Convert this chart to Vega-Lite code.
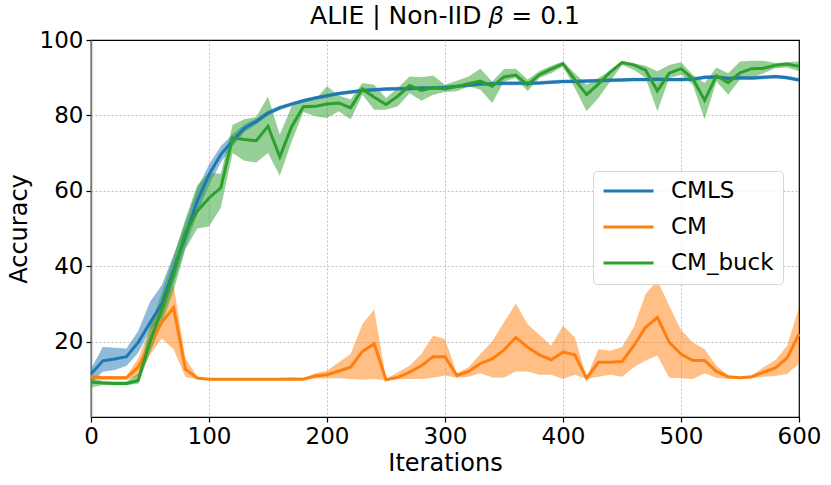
{
  "$schema": "https://vega.github.io/schema/vega-lite/v6.json",
  "width": 708,
  "height": 377,
  "autosize": {"type": "none"},
  "padding": {"left": 91, "top": 40, "right": 32, "bottom": 68},
  "background": "white",
  "title": {
    "text": "ALIE | Non-IID 𝛽 = 0.1",
    "font": "DejaVu Sans",
    "fontSize": 25,
    "fontWeight": "normal",
    "color": "black",
    "anchor": "middle",
    "offset": 0
  },
  "config": {
    "font": "DejaVu Sans",
    "view": {"stroke": "black", "strokeWidth": 1.2},
    "axis": {
      "grid": true,
      "gridColor": "#b0b0b0",
      "gridDash": [2, 2],
      "gridWidth": 0.8,
      "domainColor": "black",
      "domainWidth": 1.2,
      "tickColor": "black",
      "tickSize": 5,
      "tickWidth": 1.2,
      "labelFlush": false,
      "labelFont": "DejaVu Sans",
      "labelFontSize": 23,
      "labelColor": "black",
      "titleFont": "DejaVu Sans",
      "titleFontSize": 24,
      "titleFontWeight": "normal",
      "titleColor": "black"
    }
  },
  "data": {
    "values": [
      {"it": 0, "s": "CMLS", "m": 11.4, "lo": 9.0, "hi": 12.8},
      {"it": 10, "s": "CMLS", "m": 14.9, "lo": 12.0, "hi": 18.6},
      {"it": 20, "s": "CMLS", "m": 15.4, "lo": 12.5, "hi": 18.4},
      {"it": 30, "s": "CMLS", "m": 16.0, "lo": 13.5, "hi": 18.2},
      {"it": 40, "s": "CMLS", "m": 19.8, "lo": 17.0, "hi": 22.8},
      {"it": 50, "s": "CMLS", "m": 25.0, "lo": 23.0, "hi": 30.5},
      {"it": 60, "s": "CMLS", "m": 30.0, "lo": 26.5, "hi": 35.0},
      {"it": 70, "s": "CMLS", "m": 39.0, "lo": 35.5, "hi": 43.0},
      {"it": 80, "s": "CMLS", "m": 48.0, "lo": 45.0, "hi": 51.5},
      {"it": 90, "s": "CMLS", "m": 57.3, "lo": 54.0, "hi": 60.5},
      {"it": 100, "s": "CMLS", "m": 64.3, "lo": 61.5, "hi": 67.0},
      {"it": 110, "s": "CMLS", "m": 69.6, "lo": 67.5, "hi": 71.8},
      {"it": 120, "s": "CMLS", "m": 73.3, "lo": 71.8, "hi": 75.0},
      {"it": 130, "s": "CMLS", "m": 76.6, "lo": 75.6, "hi": 77.6},
      {"it": 140, "s": "CMLS", "m": 78.4, "lo": 77.6, "hi": 79.2},
      {"it": 150, "s": "CMLS", "m": 80.6, "lo": 79.9, "hi": 81.3},
      {"it": 160, "s": "CMLS", "m": 82.0, "lo": 81.4, "hi": 82.6},
      {"it": 170, "s": "CMLS", "m": 83.0, "lo": 82.5, "hi": 83.5},
      {"it": 180, "s": "CMLS", "m": 83.9, "lo": 83.4, "hi": 84.4},
      {"it": 190, "s": "CMLS", "m": 84.6, "lo": 84.1, "hi": 85.1},
      {"it": 200, "s": "CMLS", "m": 85.2, "lo": 84.7, "hi": 85.7},
      {"it": 210, "s": "CMLS", "m": 85.8, "lo": 85.3, "hi": 86.3},
      {"it": 220, "s": "CMLS", "m": 86.2, "lo": 85.7, "hi": 86.7},
      {"it": 230, "s": "CMLS", "m": 86.6, "lo": 86.1, "hi": 87.1},
      {"it": 240, "s": "CMLS", "m": 86.8, "lo": 86.3, "hi": 87.3},
      {"it": 250, "s": "CMLS", "m": 87.0, "lo": 86.5, "hi": 87.5},
      {"it": 260, "s": "CMLS", "m": 87.1, "lo": 86.6, "hi": 87.6},
      {"it": 270, "s": "CMLS", "m": 87.1, "lo": 86.6, "hi": 87.6},
      {"it": 280, "s": "CMLS", "m": 87.3, "lo": 86.8, "hi": 87.8},
      {"it": 290, "s": "CMLS", "m": 87.3, "lo": 86.8, "hi": 87.8},
      {"it": 300, "s": "CMLS", "m": 87.4, "lo": 86.9, "hi": 87.9},
      {"it": 310, "s": "CMLS", "m": 87.7, "lo": 87.2, "hi": 88.2},
      {"it": 320, "s": "CMLS", "m": 88.0, "lo": 87.5, "hi": 88.5},
      {"it": 330, "s": "CMLS", "m": 88.3, "lo": 87.8, "hi": 88.8},
      {"it": 340, "s": "CMLS", "m": 88.4, "lo": 87.9, "hi": 88.9},
      {"it": 350, "s": "CMLS", "m": 88.5, "lo": 88.0, "hi": 89.0},
      {"it": 360, "s": "CMLS", "m": 88.5, "lo": 88.0, "hi": 89.0},
      {"it": 370, "s": "CMLS", "m": 88.5, "lo": 88.0, "hi": 89.0},
      {"it": 380, "s": "CMLS", "m": 88.6, "lo": 88.1, "hi": 89.1},
      {"it": 390, "s": "CMLS", "m": 88.8, "lo": 88.3, "hi": 89.3},
      {"it": 400, "s": "CMLS", "m": 89.0, "lo": 88.5, "hi": 89.5},
      {"it": 410, "s": "CMLS", "m": 89.0, "lo": 88.5, "hi": 89.5},
      {"it": 420, "s": "CMLS", "m": 89.1, "lo": 88.6, "hi": 89.6},
      {"it": 430, "s": "CMLS", "m": 89.2, "lo": 88.7, "hi": 89.7},
      {"it": 440, "s": "CMLS", "m": 89.3, "lo": 88.8, "hi": 89.8},
      {"it": 450, "s": "CMLS", "m": 89.4, "lo": 88.9, "hi": 89.9},
      {"it": 460, "s": "CMLS", "m": 89.5, "lo": 89.0, "hi": 90.0},
      {"it": 470, "s": "CMLS", "m": 89.5, "lo": 89.0, "hi": 90.0},
      {"it": 480, "s": "CMLS", "m": 89.6, "lo": 89.1, "hi": 90.1},
      {"it": 490, "s": "CMLS", "m": 89.5, "lo": 89.0, "hi": 90.0},
      {"it": 500, "s": "CMLS", "m": 89.5, "lo": 89.0, "hi": 90.0},
      {"it": 510, "s": "CMLS", "m": 89.6, "lo": 89.1, "hi": 90.1},
      {"it": 520, "s": "CMLS", "m": 90.1, "lo": 89.6, "hi": 90.6},
      {"it": 530, "s": "CMLS", "m": 90.2, "lo": 89.7, "hi": 90.7},
      {"it": 540, "s": "CMLS", "m": 89.8, "lo": 89.3, "hi": 90.3},
      {"it": 550, "s": "CMLS", "m": 90.0, "lo": 89.5, "hi": 90.5},
      {"it": 560, "s": "CMLS", "m": 89.9, "lo": 89.4, "hi": 90.4},
      {"it": 570, "s": "CMLS", "m": 90.1, "lo": 89.6, "hi": 90.6},
      {"it": 580, "s": "CMLS", "m": 90.3, "lo": 89.8, "hi": 90.8},
      {"it": 590, "s": "CMLS", "m": 90.0, "lo": 89.5, "hi": 90.5},
      {"it": 600, "s": "CMLS", "m": 89.4, "lo": 88.9, "hi": 89.9},

      {"it": 0, "s": "CM", "m": 10.6, "lo": 9.8, "hi": 11.2},
      {"it": 10, "s": "CM", "m": 10.4, "lo": 9.9, "hi": 10.9},
      {"it": 20, "s": "CM", "m": 10.4, "lo": 9.9, "hi": 10.9},
      {"it": 30, "s": "CM", "m": 10.4, "lo": 9.9, "hi": 10.9},
      {"it": 40, "s": "CM", "m": 13.2, "lo": 10.8, "hi": 15.5},
      {"it": 50, "s": "CM", "m": 19.4, "lo": 16.5, "hi": 23.5},
      {"it": 60, "s": "CM", "m": 25.1, "lo": 20.8, "hi": 30.5},
      {"it": 70, "s": "CM", "m": 29.0, "lo": 18.0, "hi": 35.0},
      {"it": 80, "s": "CM", "m": 12.7, "lo": 10.6, "hi": 15.5},
      {"it": 90, "s": "CM", "m": 10.3, "lo": 10.0, "hi": 10.8},
      {"it": 100, "s": "CM", "m": 10.0, "lo": 9.8, "hi": 10.2},
      {"it": 110, "s": "CM", "m": 10.0, "lo": 9.8, "hi": 10.2},
      {"it": 120, "s": "CM", "m": 10.0, "lo": 9.8, "hi": 10.2},
      {"it": 130, "s": "CM", "m": 10.0, "lo": 9.8, "hi": 10.2},
      {"it": 140, "s": "CM", "m": 10.0, "lo": 9.8, "hi": 10.2},
      {"it": 150, "s": "CM", "m": 10.0, "lo": 9.8, "hi": 10.2},
      {"it": 160, "s": "CM", "m": 10.0, "lo": 9.8, "hi": 10.2},
      {"it": 170, "s": "CM", "m": 10.1, "lo": 9.9, "hi": 10.4},
      {"it": 180, "s": "CM", "m": 10.0, "lo": 9.8, "hi": 10.3},
      {"it": 190, "s": "CM", "m": 10.9, "lo": 10.2, "hi": 11.6},
      {"it": 200, "s": "CM", "m": 11.2, "lo": 10.3, "hi": 12.3},
      {"it": 210, "s": "CM", "m": 12.2, "lo": 10.3, "hi": 14.5},
      {"it": 220, "s": "CM", "m": 13.2, "lo": 10.1, "hi": 16.7},
      {"it": 230, "s": "CM", "m": 17.4, "lo": 9.9, "hi": 24.6},
      {"it": 240, "s": "CM", "m": 19.4, "lo": 10.1, "hi": 28.6},
      {"it": 250, "s": "CM", "m": 9.9, "lo": 9.7, "hi": 10.1},
      {"it": 260, "s": "CM", "m": 10.5, "lo": 10.1, "hi": 11.9},
      {"it": 270, "s": "CM", "m": 11.9, "lo": 10.1, "hi": 13.6},
      {"it": 280, "s": "CM", "m": 13.6, "lo": 10.1, "hi": 16.7},
      {"it": 290, "s": "CM", "m": 16.0, "lo": 10.4, "hi": 21.6},
      {"it": 300, "s": "CM", "m": 16.0, "lo": 11.0, "hi": 20.7},
      {"it": 310, "s": "CM", "m": 11.0, "lo": 10.4, "hi": 11.6},
      {"it": 320, "s": "CM", "m": 12.1, "lo": 10.7, "hi": 13.2},
      {"it": 330, "s": "CM", "m": 14.2, "lo": 11.6, "hi": 16.7},
      {"it": 340, "s": "CM", "m": 15.4, "lo": 10.5, "hi": 20.1},
      {"it": 350, "s": "CM", "m": 17.8, "lo": 10.4, "hi": 25.1},
      {"it": 360, "s": "CM", "m": 21.1, "lo": 12.1, "hi": 30.1},
      {"it": 370, "s": "CM", "m": 18.5, "lo": 12.1, "hi": 24.6},
      {"it": 380, "s": "CM", "m": 16.5, "lo": 11.2, "hi": 21.8},
      {"it": 390, "s": "CM", "m": 15.2, "lo": 11.2, "hi": 18.9},
      {"it": 400, "s": "CM", "m": 17.2, "lo": 10.1, "hi": 24.2},
      {"it": 410, "s": "CM", "m": 16.5, "lo": 11.2, "hi": 21.1},
      {"it": 420, "s": "CM", "m": 10.3, "lo": 10.1, "hi": 10.5},
      {"it": 430, "s": "CM", "m": 14.5, "lo": 10.7, "hi": 18.0},
      {"it": 440, "s": "CM", "m": 14.5, "lo": 11.2, "hi": 17.6},
      {"it": 450, "s": "CM", "m": 14.7, "lo": 10.7, "hi": 18.6},
      {"it": 460, "s": "CM", "m": 18.9, "lo": 13.2, "hi": 23.8},
      {"it": 470, "s": "CM", "m": 23.8, "lo": 15.0, "hi": 32.6},
      {"it": 480, "s": "CM", "m": 26.4, "lo": 16.3, "hi": 36.3},
      {"it": 490, "s": "CM", "m": 19.8, "lo": 10.4, "hi": 29.5},
      {"it": 500, "s": "CM", "m": 16.7, "lo": 10.3, "hi": 23.1},
      {"it": 510, "s": "CM", "m": 15.0, "lo": 10.1, "hi": 19.8},
      {"it": 520, "s": "CM", "m": 15.0, "lo": 11.6, "hi": 18.0},
      {"it": 530, "s": "CM", "m": 12.1, "lo": 10.4, "hi": 13.6},
      {"it": 540, "s": "CM", "m": 10.7, "lo": 10.1, "hi": 11.0},
      {"it": 550, "s": "CM", "m": 10.4, "lo": 10.1, "hi": 10.6},
      {"it": 560, "s": "CM", "m": 10.7, "lo": 10.3, "hi": 11.0},
      {"it": 570, "s": "CM", "m": 11.9, "lo": 10.7, "hi": 13.2},
      {"it": 580, "s": "CM", "m": 13.0, "lo": 10.9, "hi": 15.1},
      {"it": 590, "s": "CM", "m": 15.7, "lo": 11.4, "hi": 18.9},
      {"it": 600, "s": "CM", "m": 22.0, "lo": 14.2, "hi": 29.1},

      {"it": 0, "s": "CM_buck", "m": 9.3, "lo": 7.8, "hi": 10.2},
      {"it": 10, "s": "CM_buck", "m": 9.0, "lo": 8.5, "hi": 9.6},
      {"it": 20, "s": "CM_buck", "m": 8.9, "lo": 8.4, "hi": 9.4},
      {"it": 30, "s": "CM_buck", "m": 8.9, "lo": 8.4, "hi": 9.4},
      {"it": 40, "s": "CM_buck", "m": 9.7, "lo": 8.8, "hi": 11.5},
      {"it": 50, "s": "CM_buck", "m": 20.0, "lo": 17.0, "hi": 24.0},
      {"it": 60, "s": "CM_buck", "m": 28.5, "lo": 25.0, "hi": 33.0},
      {"it": 70, "s": "CM_buck", "m": 38.0, "lo": 33.5, "hi": 42.5},
      {"it": 80, "s": "CM_buck", "m": 48.9, "lo": 44.5, "hi": 52.5},
      {"it": 90, "s": "CM_buck", "m": 54.6, "lo": 50.0, "hi": 61.5},
      {"it": 100, "s": "CM_buck", "m": 58.1, "lo": 50.5, "hi": 64.8},
      {"it": 110, "s": "CM_buck", "m": 60.8, "lo": 55.5, "hi": 64.5},
      {"it": 120, "s": "CM_buck", "m": 74.0, "lo": 70.0, "hi": 77.5},
      {"it": 130, "s": "CM_buck", "m": 73.6, "lo": 68.0, "hi": 79.0},
      {"it": 140, "s": "CM_buck", "m": 73.3, "lo": 67.5, "hi": 79.6},
      {"it": 150, "s": "CM_buck", "m": 77.1, "lo": 70.0, "hi": 85.0},
      {"it": 160, "s": "CM_buck", "m": 69.0, "lo": 64.0, "hi": 74.9},
      {"it": 170, "s": "CM_buck", "m": 77.0, "lo": 73.0, "hi": 82.4},
      {"it": 180, "s": "CM_buck", "m": 82.3, "lo": 80.9, "hi": 83.9},
      {"it": 190, "s": "CM_buck", "m": 82.4, "lo": 79.8, "hi": 84.2},
      {"it": 200, "s": "CM_buck", "m": 83.0, "lo": 79.3, "hi": 87.7},
      {"it": 210, "s": "CM_buck", "m": 83.3, "lo": 81.1, "hi": 85.3},
      {"it": 220, "s": "CM_buck", "m": 82.0, "lo": 78.9, "hi": 84.2},
      {"it": 230, "s": "CM_buck", "m": 87.0, "lo": 85.5, "hi": 88.6},
      {"it": 240, "s": "CM_buck", "m": 84.8, "lo": 81.5, "hi": 88.1},
      {"it": 250, "s": "CM_buck", "m": 82.9, "lo": 81.5, "hi": 84.6},
      {"it": 260, "s": "CM_buck", "m": 85.1, "lo": 82.4, "hi": 87.3},
      {"it": 270, "s": "CM_buck", "m": 87.9, "lo": 85.9, "hi": 90.3},
      {"it": 280, "s": "CM_buck", "m": 86.6, "lo": 83.9, "hi": 90.1},
      {"it": 290, "s": "CM_buck", "m": 87.4, "lo": 85.5, "hi": 90.6},
      {"it": 300, "s": "CM_buck", "m": 87.0, "lo": 86.2, "hi": 88.1},
      {"it": 310, "s": "CM_buck", "m": 87.7, "lo": 86.4, "hi": 89.2},
      {"it": 320, "s": "CM_buck", "m": 88.4, "lo": 87.7, "hi": 90.3},
      {"it": 330, "s": "CM_buck", "m": 89.1, "lo": 86.8, "hi": 92.4},
      {"it": 340, "s": "CM_buck", "m": 87.7, "lo": 83.3, "hi": 89.0},
      {"it": 350, "s": "CM_buck", "m": 90.2, "lo": 89.0, "hi": 92.3},
      {"it": 360, "s": "CM_buck", "m": 90.7, "lo": 89.9, "hi": 92.4},
      {"it": 370, "s": "CM_buck", "m": 88.1, "lo": 86.4, "hi": 89.5},
      {"it": 380, "s": "CM_buck", "m": 90.8, "lo": 89.9, "hi": 91.8},
      {"it": 390, "s": "CM_buck", "m": 92.3, "lo": 91.2, "hi": 93.2},
      {"it": 400, "s": "CM_buck", "m": 93.7, "lo": 93.0, "hi": 94.3},
      {"it": 410, "s": "CM_buck", "m": 89.5, "lo": 87.3, "hi": 91.2},
      {"it": 420, "s": "CM_buck", "m": 85.5, "lo": 81.1, "hi": 88.1},
      {"it": 430, "s": "CM_buck", "m": 88.3, "lo": 84.6, "hi": 89.9},
      {"it": 440, "s": "CM_buck", "m": 91.5, "lo": 89.0, "hi": 91.9},
      {"it": 450, "s": "CM_buck", "m": 94.0, "lo": 93.4, "hi": 94.5},
      {"it": 460, "s": "CM_buck", "m": 93.4, "lo": 92.1, "hi": 93.8},
      {"it": 470, "s": "CM_buck", "m": 92.0, "lo": 89.9, "hi": 93.2},
      {"it": 480, "s": "CM_buck", "m": 86.5, "lo": 81.1, "hi": 91.7},
      {"it": 490, "s": "CM_buck", "m": 91.2, "lo": 89.9, "hi": 93.4},
      {"it": 500, "s": "CM_buck", "m": 92.4, "lo": 90.8, "hi": 94.1},
      {"it": 510, "s": "CM_buck", "m": 89.7, "lo": 88.1, "hi": 90.8},
      {"it": 520, "s": "CM_buck", "m": 84.0, "lo": 78.9, "hi": 88.6},
      {"it": 530, "s": "CM_buck", "m": 90.5, "lo": 89.0, "hi": 92.7},
      {"it": 540, "s": "CM_buck", "m": 88.7, "lo": 85.5, "hi": 91.2},
      {"it": 550, "s": "CM_buck", "m": 91.3, "lo": 89.5, "hi": 94.3},
      {"it": 560, "s": "CM_buck", "m": 92.4, "lo": 89.9, "hi": 94.5},
      {"it": 570, "s": "CM_buck", "m": 92.5, "lo": 91.2, "hi": 94.5},
      {"it": 580, "s": "CM_buck", "m": 93.3, "lo": 92.5, "hi": 93.9},
      {"it": 590, "s": "CM_buck", "m": 93.6, "lo": 92.7, "hi": 94.1},
      {"it": 600, "s": "CM_buck", "m": 93.0, "lo": 91.7, "hi": 94.3}
    ]
  },
  "encoding": {
    "x": {
      "field": "it",
      "type": "quantitative",
      "scale": {"domain": [0, 600], "nice": false},
      "axis": {
        "values": [0, 100, 200, 300, 400, 500, 600],
        "title": "Iterations",
        "labelPadding": 3,
        "titlePadding": 3,
        "gridOpacity": {"condition": {"test": "datum.value == 0 || datum.value == 600", "value": 0}, "value": 1}
      }
    },
    "color": {
      "field": "s",
      "type": "nominal",
      "scale": {"domain": ["CMLS", "CM", "CM_buck"], "range": ["#1f77b4", "#ff7f0e", "#2ca02c"]},
      "legend": {
        "orient": "none",
        "legendX": 502,
        "legendY": 131,
        "title": null,
        "direction": "vertical",
        "symbolType": "stroke",
        "symbolSize": 2500,
        "symbolStrokeWidth": 3,
        "symbolOpacity": 1,
        "clipHeight": 22,
        "labelFont": "DejaVu Sans",
        "labelFontSize": 23,
        "labelColor": "black",
        "labelOffset": 16,
        "rowPadding": 13,
        "padding": 9,
        "strokeColor": "#d6d6d6",
        "fillColor": "rgba(255,255,255,0.8)",
        "cornerRadius": 4
      }
    }
  },
  "layer": [
    {
      "mark": {"type": "area", "opacity": 0.5},
      "encoding": {
        "y": {
          "field": "lo",
          "type": "quantitative",
          "stack": null,
          "scale": {"domain": [0, 100], "nice": false},
          "axis": {
            "values": [20, 40, 60, 80, 100],
            "title": "Accuracy",
            "labelPadding": 3,
            "titlePadding": 8,
            "domainColor": "#777777",
            "domainWidth": 1.5,
            "gridOpacity": {"condition": {"test": "datum.value == 100", "value": 0}, "value": 1}
          }
        },
        "y2": {"field": "hi"}
      }
    },
    {
      "mark": {"type": "line", "strokeWidth": 3},
      "encoding": {
        "y": {
          "field": "m",
          "type": "quantitative",
          "scale": {"domain": [0, 100], "nice": false},
          "axis": {
            "values": [20, 40, 60, 80, 100],
            "title": "Accuracy",
            "labelPadding": 3,
            "titlePadding": 8,
            "domainColor": "#777777",
            "domainWidth": 1.5,
            "gridOpacity": {"condition": {"test": "datum.value == 100", "value": 0}, "value": 1}
          }
        }
      }
    }
  ]
}
